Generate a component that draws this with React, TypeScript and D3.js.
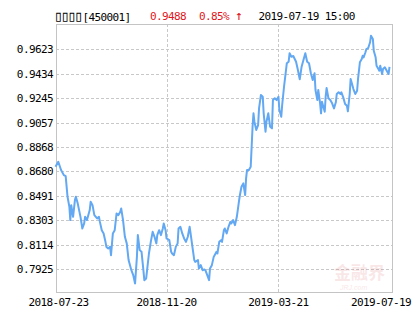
import React from "react";
import * as d3 from "d3";

// ---- data ----
const FUND_NAME = "▯▯▯▯";
const FUND_CODE = "450001";
const LAST_NAV = "0.9488";
const LAST_CHANGE = "0.85%";
const TIMESTAMP = "2019-07-19 15:00";
const START_DATE = "2018-07-23";
const END_DATE = "2019-07-19";
const X_TICK_LABELS = ["2018-07-23", "2018-11-20", "2019-03-21", "2019-07-19"];
const Y_TICKS = [0.7925, 0.8114, 0.8303, 0.8491, 0.868, 0.8868, 0.9057, 0.9245, 0.9434, 0.9623];

// [days since START_DATE, net asset value]
const navSeries: [number, number][] = [
  [0, 0.8716], [3, 0.8755], [6, 0.8691], [9, 0.8652], [11, 0.8644], [13, 0.8485], [15, 0.8407], [16, 0.8305],
  [17, 0.842], [19, 0.833], [21, 0.8459], [22, 0.8485], [24, 0.8434], [27, 0.833], [29, 0.824], [31, 0.8279],
  [32, 0.833], [34, 0.8305], [37, 0.8382], [38, 0.8446], [40, 0.842], [42, 0.8343], [45, 0.8318], [47, 0.833],
  [48, 0.8291], [50, 0.8227], [52, 0.8202], [54, 0.8137], [55, 0.8098], [57, 0.8086], [59, 0.8098], [60, 0.8034],
  [62, 0.8202], [64, 0.8227], [66, 0.8356], [68, 0.8343], [70, 0.8369], [71, 0.8395], [73, 0.8305], [75, 0.8176],
  [77, 0.8125], [79, 0.7996], [80, 0.797], [82, 0.7918], [84, 0.788], [86, 0.7816], [88, 0.8021], [89, 0.8189],
  [91, 0.8073], [93, 0.806], [95, 0.7918], [96, 0.7841], [98, 0.7854], [99, 0.7918], [101, 0.8047], [103, 0.8137],
  [105, 0.8214], [107, 0.8176], [109, 0.8125], [110, 0.8189], [112, 0.8227], [114, 0.8189], [116, 0.824], [117, 0.8279],
  [119, 0.8227], [120, 0.8163], [123, 0.815], [125, 0.806], [126, 0.8047], [128, 0.8034], [130, 0.8098], [132, 0.8125],
  [133, 0.824], [135, 0.8253], [137, 0.8202], [139, 0.8163], [141, 0.8137], [143, 0.8176], [145, 0.8253], [146, 0.8202],
  [148, 0.8098], [150, 0.7996], [151, 0.7982], [154, 0.7996], [155, 0.7931], [157, 0.7957], [159, 0.7918], [161, 0.7924],
  [162, 0.7918], [164, 0.788], [166, 0.7841], [167, 0.7931], [169, 0.7957], [171, 0.8021], [172, 0.8034], [174, 0.806],
  [175, 0.8047], [177, 0.8137], [179, 0.815], [180, 0.8137], [182, 0.8227], [183, 0.824],
  [185, 0.8202], [187, 0.8253], [189, 0.8291], [190, 0.8279], [192, 0.8305], [194, 0.8266], [196, 0.833], [198, 0.8434],
  [199, 0.8485], [201, 0.8562], [203, 0.8588], [205, 0.8498], [206, 0.8627], [207, 0.8691], [209, 0.8691], [211, 0.8716],
  [212, 0.8871], [213, 0.9025], [214, 0.9129], [215, 0.9064], [217, 0.9], [219, 0.9038], [220, 0.9167], [222, 0.927],
  [224, 0.9257], [225, 0.9129], [227, 0.8987], [228, 0.9064], [230, 0.9129], [232, 0.9025], [234, 0.9013], [235, 0.9231],
  [237, 0.9245], [239, 0.9231], [241, 0.9257],
  [242, 0.9154], [244, 0.9102], [245, 0.9193], [247, 0.9334], [250, 0.9515], [252, 0.9527], [253, 0.9592], [255, 0.9566],
  [257, 0.9571], [260, 0.9527], [262, 0.9463], [264, 0.9391], [266, 0.9489], [268, 0.954], [270, 0.9592], [272, 0.9527],
  [274, 0.9515], [276, 0.9438], [278, 0.9386], [280, 0.9438], [281, 0.9309], [283, 0.9231], [284, 0.9309], [286, 0.9206],
  [287, 0.9129], [288, 0.9218], [291, 0.9141], [292, 0.9257], [293, 0.9324], [295, 0.9245], [297, 0.9231], [299, 0.9206],
  [301, 0.9167],
  [303, 0.9214], [304, 0.9278], [306, 0.9291], [308, 0.9278], [309, 0.9291], [311, 0.9252], [313, 0.92], [315, 0.9187],
  [316, 0.9144], [318, 0.9278], [319, 0.9394], [320, 0.9368], [322, 0.9316], [324, 0.9278], [326, 0.9303], [327, 0.9394],
  [329, 0.9523], [331, 0.9548], [332, 0.9574], [333, 0.9561], [335, 0.96], [336, 0.9625], [338, 0.9633], [340, 0.9677],
  [341, 0.9728], [343, 0.9703], [344, 0.9612], [346, 0.9561], [347, 0.9496], [349, 0.9471], [350, 0.9458], [351, 0.9496],
  [353, 0.9432], [354, 0.9471], [356, 0.9484], [358, 0.9458], [360, 0.9432], [361, 0.9488],
];

// ---- layout ----
const W = 415;
const H = 330;
const PLOT_L = 56;
const PLOT_R = 392;
const PLOT_T = 24;
const PLOT_B = 292;
const FONT = "'DejaVu Sans Mono', 'Liberation Mono', monospace";

const parse = d3.utcParse("%Y-%m-%d");

export default function App() {
  const start = parse(START_DATE)!;
  const end = parse(END_DATE)!;
  const x = d3.scaleUtc().domain([start, end]).range([55.5, 389.5]);
  const y = d3.scaleLinear().domain([Y_TICKS[0], Y_TICKS[Y_TICKS.length - 1]]).range([269.3, 49.3]);

  const pts = navSeries.map(([d, v]) => ({ date: d3.utcDay.offset(start, d), v }));
  const line = d3
    .line<{ date: Date; v: number }>()
    .x((p) => x(p.date))
    .y((p) => y(p.v));

  const xTicks = X_TICK_LABELS.map((s) => ({ s, px: x(parse(s)!) }));

  const textStyle: React.CSSProperties = { fontFamily: FONT, fontSize: 11, letterSpacing: -0.6 };

  return (
    <svg
      width={W}
      height={H}
      style={{ position: "fixed", left: 0, top: 0, background: "#fff", display: "block" }}
    >
      <rect x={0} y={0} width={W} height={H} fill="#fff" />
      {/* horizontal grid */}
      {Y_TICKS.map((t) => (
        <line
          key={"h" + t}
          x1={PLOT_L}
          x2={PLOT_R}
          y1={Math.round(y(t)) + 0.5}
          y2={Math.round(y(t)) + 0.5}
          stroke="#c8c8c8"
          strokeDasharray="3,2"
        />
      ))}
      {/* vertical grid */}
      {xTicks.slice(1, -1).map((t) => (
        <line
          key={"v" + t.s}
          x1={Math.round(t.px) + 0.5}
          x2={Math.round(t.px) + 0.5}
          y1={PLOT_T}
          y2={PLOT_B}
          stroke="#c8c8c8"
          strokeDasharray="3,2"
        />
      ))}
      {/* watermark */}
      <g opacity={0.14} fill="#d9595f">
        <text x={334} y={279} fontFamily="'Noto Sans CJK SC', sans-serif" fontSize={17} fontWeight="bold">
          金融界
        </text>
        <text x={340} y={290} fontFamily="Liberation Sans, sans-serif" fontSize={7} fontStyle="italic">
          JRJ.com
        </text>
      </g>
      {/* frame */}
      <rect
        x={PLOT_L + 0.5}
        y={PLOT_T + 0.5}
        width={PLOT_R - PLOT_L}
        height={PLOT_B - PLOT_T}
        fill="none"
        stroke="#c4c4c4"
      />
      {/* line */}
      <path d={line(pts) || ""} fill="none" stroke="#62a8f2" strokeWidth={2} strokeLinejoin="round" />
      {/* y labels */}
      {Y_TICKS.map((t) => (
        <text key={"yl" + t} x={53} y={y(t) + 4} textAnchor="end" fill="#000" style={textStyle}>
          {t.toFixed(4)}
        </text>
      ))}
      {/* x labels */}
      {xTicks.map((t) => (
        <text
          key={"xl" + t.s}
          x={Math.min(Math.max(t.px, 58.5), 381)}
          y={306}
          textAnchor="middle"
          fill="#000"
          style={textStyle}
        >
          {t.s}
        </text>
      ))}
      {/* title */}
      <text x={54} y={20.5} fill="#000" style={textStyle}>
        <tspan style={{ fontSize: 15, letterSpacing: -2.3 }}>{FUND_NAME}</tspan>
        <tspan dx={1.5}>{"[" + FUND_CODE + "]"}</tspan>
      </text>
      <text x={150} y={20} fill="#e0161b" style={textStyle}>
        {LAST_NAV}
      </text>
      <text x={199} y={20} fill="#e0161b" style={textStyle}>
        {LAST_CHANGE + " "}
        <tspan style={{ fontSize: 13 }}>↑</tspan>
      </text>
      <text x={258.5} y={20} fill="#000" style={textStyle}>
        {TIMESTAMP}
      </text>
    </svg>
  );
}
